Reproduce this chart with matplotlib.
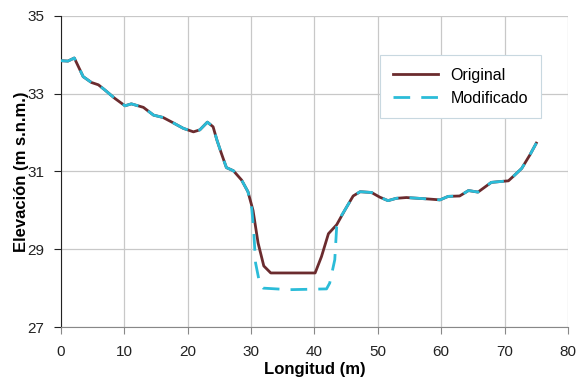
import numpy as np
import matplotlib.pyplot as plt

plt.rcParams['font.family'] = ['Liberation Sans', 'DejaVu Sans']

# perfil original
x_orig = [0, 1.1, 2.1, 3.5, 4.8, 5.9, 6.9, 8.5, 10.1, 11.1, 13.0, 14.6, 16.1, 17.5,
          19.3, 20.9, 21.9, 23.1, 24.0, 24.6, 25.3, 26.1, 27.2, 28.5, 29.5, 30.3,
          31.1, 32.0, 33.1, 40.1, 41.1, 42.2, 43.5, 44.8, 46.1, 47.2, 49.0, 50.3,
          51.6, 52.9, 54.5, 56.4, 58.2, 59.8, 61.1, 62.9, 64.3, 65.8, 67.9, 69.2,
          70.6, 71.6, 72.7, 74.0, 75.0]
y_orig = [33.85, 33.84, 33.92, 33.44, 33.29, 33.23, 33.10, 32.88, 32.69, 32.74,
          32.65, 32.45, 32.39, 32.27, 32.11, 32.02, 32.07, 32.27, 32.15, 31.81,
          31.47, 31.10, 31.02, 30.78, 30.48, 30.00, 29.16, 28.57, 28.39, 28.39,
          28.81, 29.40, 29.63, 30.01, 30.37, 30.48, 30.46, 30.34, 30.25, 30.31,
          30.33, 30.31, 30.29, 30.27, 30.36, 30.37, 30.51, 30.47, 30.72, 30.74,
          30.76, 30.91, 31.08, 31.43, 31.73]

# tramo modificado del cauce
x_trough = [30.1, 30.4, 30.7, 31.4, 31.9, 36.0, 41.9, 42.4, 43.2, 43.5, 44.3]
y_trough = [30.05, 29.50, 28.65, 28.08, 28.00, 27.96, 27.98, 28.13, 28.73, 29.58, 29.88]

i_left = 25   # hasta x = 29.5
i_right = 33  # desde x = 44.8
x_mod = x_orig[:i_left] + x_trough + x_orig[i_right:]
y_mod = y_orig[:i_left] + y_trough + y_orig[i_right:]

x_ticks = np.arange(0, 81, 10)
y_ticks = [27, 29, 31, 33, 35]

fig = plt.figure(figsize=(5.77, 3.79), dpi=100)
ax = fig.add_axes([0.1057, 0.1372, 0.8787, 0.8206])

ax.plot(x_orig, y_orig, color='#6b2b2e', lw=2.0, label='Original', zorder=3)
ax.plot(x_mod, y_mod, color='#2bbcd8', lw=2.0, dashes=(6, 4), label='Modificado', zorder=4)

ax.set_xlim(0, 80)
ax.set_ylim(27, 35)
ax.set_xticks(x_ticks)
ax.set_yticks(y_ticks)
ax.grid(True, color='#c8c8c8', lw=0.9)
ax.set_axisbelow(True)

for s in ['top', 'right']:
    ax.spines[s].set_visible(False)
ax.spines['left'].set_color('#222222')
ax.spines['bottom'].set_color('#888888')
ax.tick_params(direction='out', length=5, labelsize=11, colors='#222222')
ax.tick_params(axis='x', color='#888888', labelcolor='#222222', pad=8)
ax.tick_params(axis='y', pad=7)

ax.set_xlabel('Longitud (m)', fontsize=12, fontweight='bold', labelpad=2)
ax.set_ylabel('Elevación (m s.n.m.)', fontsize=12, fontweight='bold', labelpad=-1)

leg = ax.legend(loc='upper left', bbox_to_anchor=(0.63, 0.875), borderaxespad=0,
                fontsize=11.5, frameon=True, fancybox=False, edgecolor='#c8d8e0',
                framealpha=1, handlelength=2.8, borderpad=0.8, labelspacing=0.5)
leg.get_frame().set_linewidth(0.8)

fig.savefig('out.png', dpi=100)
